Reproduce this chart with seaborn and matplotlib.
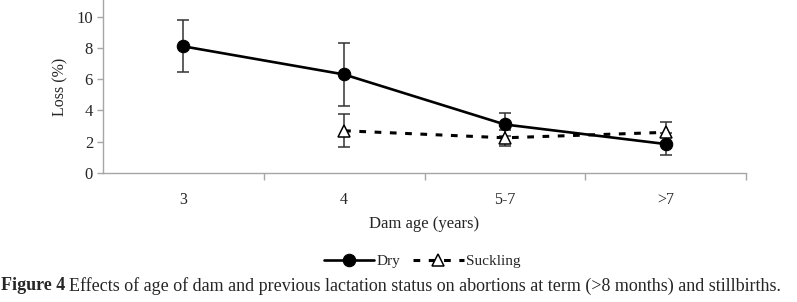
import matplotlib
matplotlib.use('Agg')
import matplotlib.pyplot as plt
import seaborn as sns
import pandas as pd
import numpy as np

# data
age_groups = ['3', '4', '5-7', '>7']
dry_ages = ['3', '4', '5-7', '>7']
dry_loss = [8.1, 6.3, 3.1, 1.85]
dry_err = [1.65, 2.0, 0.75, 0.68]
suck_ages = ['4', '5-7', '>7']
suck_loss = [2.7, 2.25, 2.6]
suck_err = [1.05, 0.5, 0.63]

dry_df = pd.DataFrame({'pos': [age_groups.index(a) for a in dry_ages],
                       'loss': dry_loss, 'err': dry_err})
suck_df = pd.DataFrame({'pos': [age_groups.index(a) for a in suck_ages],
                        'loss': suck_loss, 'err': suck_err})

sns.set_style('white')
plt.rcParams['font.family'] = ['Liberation Serif', 'DejaVu Serif']

fig = plt.figure(figsize=(7.97, 3.02), dpi=100)
ax = fig.add_axes([0.1289, 0.4272, 0.8075, 0.5728])

# error bars first so the markers sit on top
ax.errorbar(dry_df['pos'], dry_df['loss'], yerr=dry_df['err'], fmt='none',
            ecolor='#333333', elinewidth=1.1, capsize=4.5, capthick=1.1, zorder=2)
ax.errorbar(suck_df['pos'], suck_df['loss'], yerr=suck_df['err'], fmt='none',
            ecolor='#333333', elinewidth=1.1, capsize=4.5, capthick=1.1, zorder=2)

sns.lineplot(data=dry_df, x='pos', y='loss', ax=ax, color='black', lw=1.9,
             marker='o', markersize=9, markerfacecolor='black',
             markeredgecolor='black', label='Dry', zorder=3)
sns.lineplot(data=suck_df, x='pos', y='loss', ax=ax, color='black', lw=2.2,
             linestyle=(0, (2.2, 2.8)), marker='^', markersize=9,
             markerfacecolor='white', markeredgecolor='black',
             markeredgewidth=1.1, label='Suckling', zorder=3)

ax.set_xlim(-0.5, 3.5)
ax.set_ylim(0, 11.06)
ax.set_yticks([0, 2, 4, 6, 8, 10])
ax.set_xticks([0.5, 1.5, 2.5, 3.5])
ax.set_xticklabels([])
ax.set_xticks(range(len(age_groups)), minor=True)
ax.set_xticklabels(age_groups, minor=True, fontsize=11.5)
ax.tick_params(axis='x', which='major', length=5, color='#a6a6a6', width=1,
               direction='out', bottom=True)
ax.tick_params(axis='x', which='minor', length=0, pad=13.5)
ax.tick_params(axis='y', which='major', length=4, color='#a6a6a6', width=1,
               direction='out', left=True, labelsize=12, pad=3)

for side in ['top', 'right']:
    ax.spines[side].set_visible(False)
for side in ['left', 'bottom']:
    ax.spines[side].set_color('#a6a6a6')
    ax.spines[side].set_linewidth(1)

ax.set_xlabel('Dam age (years)', fontsize=12, labelpad=6)
ax.set_ylabel('Loss (%)', fontsize=11.5, labelpad=6)
ax.grid(False)

handles, labels = ax.get_legend_handles_labels()
ax.legend_.remove()
fig.legend(handles, labels, loc='center', bbox_to_anchor=(422 / 797, 1 - 261 / 302),
           ncol=2, frameon=False, fontsize=11, handlelength=3.3,
           handletextpad=0.15, columnspacing=0.85)

# caption: bold "Figure 4" followed by normal text
fs_cap = 13.0
t1 = fig.text(1 / 797, 1 - 286 / 302, 'Figure 4', fontsize=fs_cap,
              fontweight='bold', va='center', ha='left')
renderer = fig.canvas.get_renderer()
bb = t1.get_window_extent(renderer)
fig.text((bb.x1 + 4) / 797, 1 - 286 / 302,
         'Effects of age of dam and previous lactation status on abortions at term '
         '(>8 months) and stillbirths.',
         fontsize=fs_cap, va='center', ha='left')

fig.savefig('out.png', dpi=100)
